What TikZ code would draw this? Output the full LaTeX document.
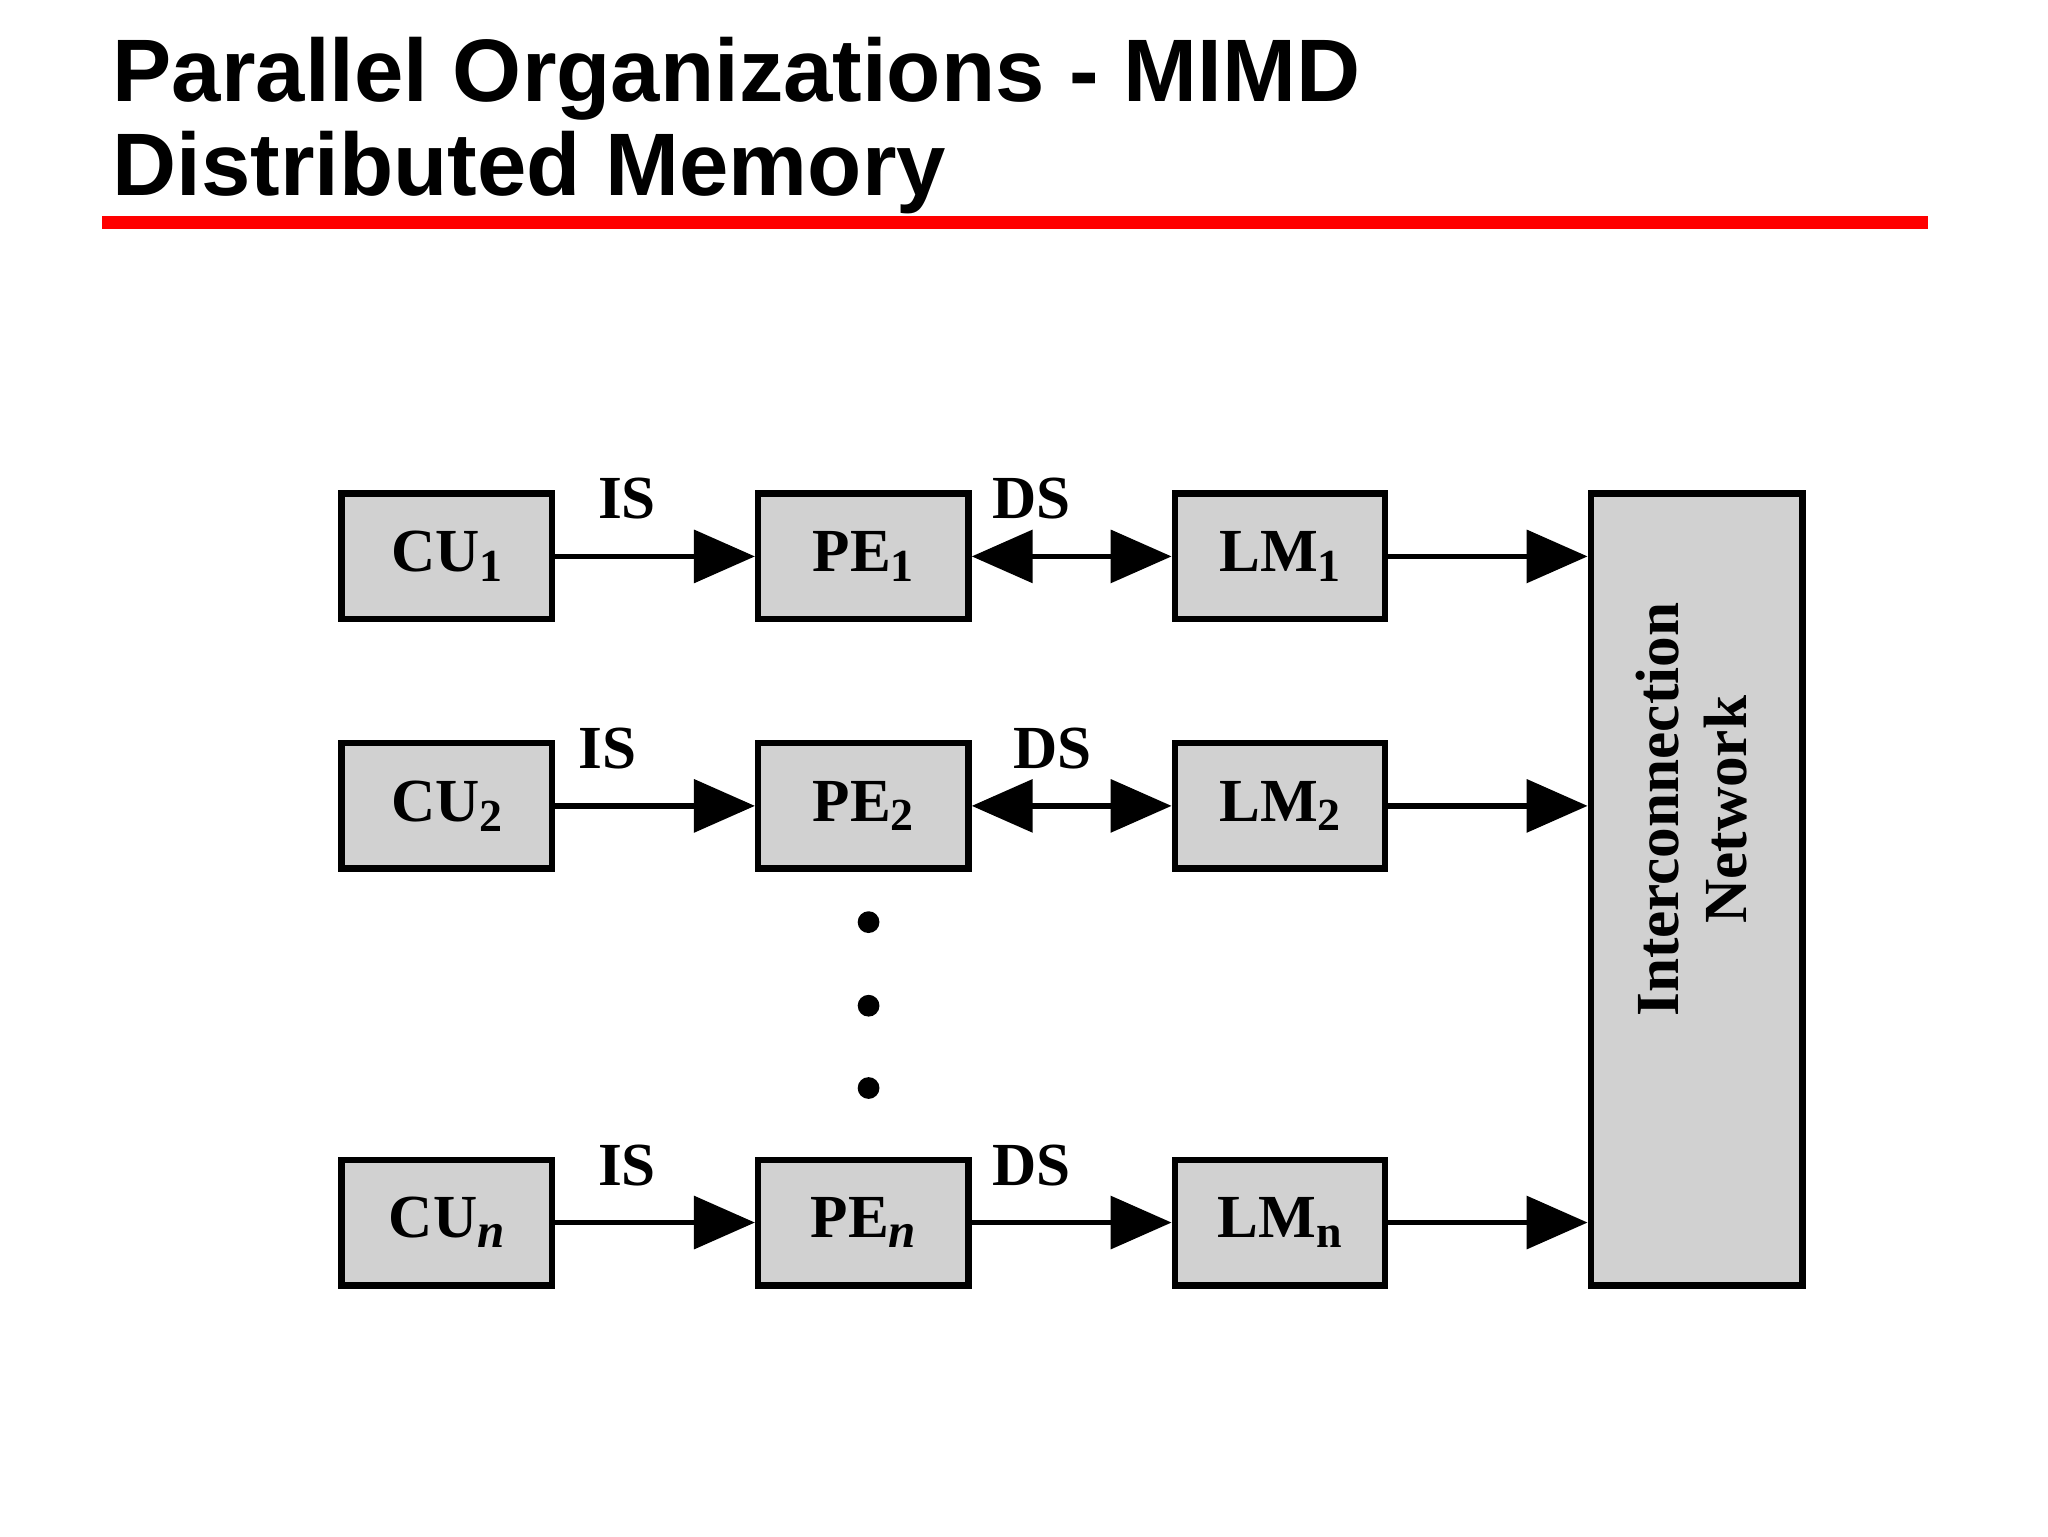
\documentclass[tikz,border=0pt]{standalone}
\usepackage{fontspec}
\setmainfont{Liberation Serif}
\newfontfamily\titlefont{Liberation Sans}
\usetikzlibrary{arrows.meta}
\newcommand{\sbs}[1]{\raisebox{-0.35ex}{\fontsize{30}{32}\bfseries\selectfont #1}}
\newcommand{\sbi}[1]{\raisebox{-0.35ex}{\fontsize{32}{32}\bfseries\itshape\selectfont #1}}
\begin{document}
\begin{tikzpicture}[x=0.3mm,y=-0.3mm,
  box/.style={draw,line width=1.5mm,fill=black!18,minimum width=48.3mm,minimum height=28.8mm,inner sep=0pt,font=\fontsize{40}{44}\bfseries\selectfont},
  con/.style={line width=1.3mm,-{Triangle[length=14mm,width=12mm]}},
  dcon/.style={line width=1.3mm,{Triangle[length=14mm,width=12mm]}-{Triangle[length=14mm,width=12mm]}},
  lab/.style={font=\fontsize{40}{44}\bfseries\selectfont,inner sep=0pt},
  dot/.style={circle,fill,inner sep=0pt,minimum size=5mm}]
\useasboundingbox (0,0) rectangle (1568,1176);
\node[anchor=base west,inner sep=0pt,font=\titlefont\fontsize{58}{62}\bfseries\selectfont] (t1) at (86,78) {Parallel Organizations - MIMD};
\node[anchor=base west,inner sep=0pt,font=\titlefont\fontsize{58}{62}\bfseries\selectfont] (t2) at (86,150) {Distributed Memory};
\fill[red] (78,165) rectangle (1476,175);
\foreach \r/\y/\s in {1/426/\sbs{1},2/617/\sbs{2},n/936/\sbi{n}}{
  \node[box] (cu\r) at (342,\y) {CU\s};
  \node[box] (pe\r) at (661,\y) {PE\s};
}
\node[box] (lm1) at (980,426) {LM\sbs{1}};
\node[box] (lm2) at (980,617) {LM\sbs{2}};
\node[box] (lmn) at (980,936) {LM\sbs{n}};
\node[box,minimum width=48.6mm,minimum height=182mm] (in) at (1299,681) {};
\node[lab,rotate=90,align=center] (int) at (1295,620) {Interconnection\\Network};
\foreach \r in {1,2,n}{
  \draw[con] (cu\r) -- (pe\r);
  \draw[con] (lm\r.east) -- (lm\r.east -| in.west);
}
\draw[dcon] (pe1) -- (lm1);
\draw[dcon] (pe2) -- (lm2);
\draw[con] (pen) -- (lmn);
\node[lab] (is1) at (480,382) {IS};
\node[lab] (is2) at (465,573) {IS};
\node[lab] (isn) at (480,892) {IS};
\node[lab] (ds1) at (790,382) {DS};
\node[lab] (ds2) at (806,573) {DS};
\node[lab] (dsn) at (790,892) {DS};
\node[dot] (d1) at (665,706) {};
\node[dot] (d2) at (665,770) {};
\node[dot] (d3) at (665,833) {};
\end{tikzpicture}
\end{document}
